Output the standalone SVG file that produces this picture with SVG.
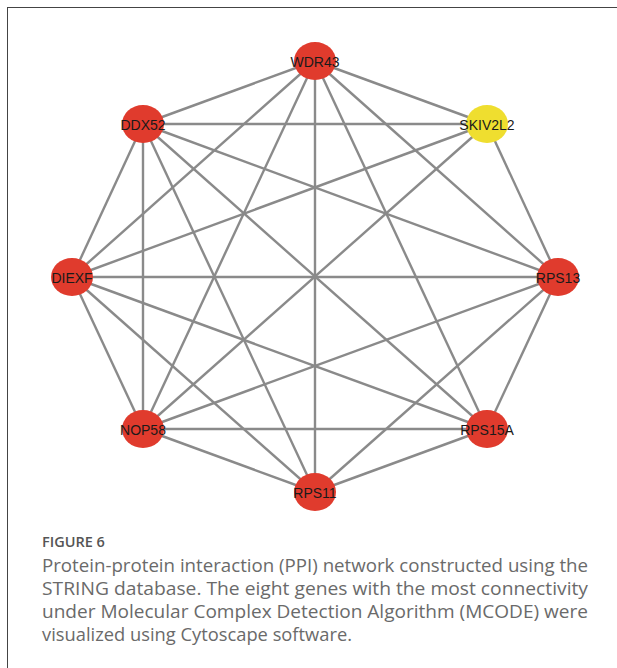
<svg xmlns="http://www.w3.org/2000/svg" width="617" height="668" viewBox="0 0 617 668">
<style>
.edge{stroke:#8a8a8a;stroke-width:2.4;fill:none}
.red{fill:#e03b2d}
.yel{fill:#efde2f}
.lbl{font-family:"Liberation Sans",Arial,sans-serif;font-size:14px;fill:#1a1a1a;text-anchor:middle}
.cap{font-family:"Open Sans",sans-serif;font-size:17.5px;fill:#6a6a6a}
.fig{font-family:"Open Sans",sans-serif;font-size:14.5px;font-weight:600;fill:#555}
</style>
<rect x="0" y="0" width="617" height="668" fill="#fff"/>
<rect x="7.5" y="7.5" width="630" height="680" fill="none" stroke="#444" stroke-width="1"/>
<g id="edges">
<line class="edge" x1="315" y1="61" x2="143" y2="124"/>
<line class="edge" x1="315" y1="61" x2="487" y2="124"/>
<line class="edge" x1="315" y1="61" x2="72" y2="277"/>
<line class="edge" x1="315" y1="61" x2="558" y2="277"/>
<line class="edge" x1="315" y1="61" x2="143" y2="429"/>
<line class="edge" x1="315" y1="61" x2="487" y2="429"/>
<line class="edge" x1="315" y1="61" x2="315" y2="492"/>
<line class="edge" x1="143" y1="124" x2="487" y2="124"/>
<line class="edge" x1="143" y1="124" x2="72" y2="277"/>
<line class="edge" x1="143" y1="124" x2="558" y2="277"/>
<line class="edge" x1="143" y1="124" x2="143" y2="429"/>
<line class="edge" x1="143" y1="124" x2="487" y2="429"/>
<line class="edge" x1="143" y1="124" x2="315" y2="492"/>
<line class="edge" x1="487" y1="124" x2="72" y2="277"/>
<line class="edge" x1="487" y1="124" x2="558" y2="277"/>
<line class="edge" x1="487" y1="124" x2="143" y2="429"/>
<line class="edge" x1="72" y1="277" x2="558" y2="277"/>
<line class="edge" x1="72" y1="277" x2="143" y2="429"/>
<line class="edge" x1="72" y1="277" x2="487" y2="429"/>
<line class="edge" x1="72" y1="277" x2="315" y2="492"/>
<line class="edge" x1="558" y1="277" x2="143" y2="429"/>
<line class="edge" x1="558" y1="277" x2="487" y2="429"/>
<line class="edge" x1="558" y1="277" x2="315" y2="492"/>
<line class="edge" x1="143" y1="429" x2="487" y2="429"/>
<line class="edge" x1="143" y1="429" x2="315" y2="492"/>
<line class="edge" x1="487" y1="429" x2="315" y2="492"/>
</g>
<g id="WDR43"><ellipse class="red" cx="315" cy="61" rx="21" ry="19"/><text class="lbl" x="315" y="66.5">WDR43</text></g>
<g id="DDX52"><ellipse class="red" cx="143" cy="124" rx="21" ry="19"/><text class="lbl" x="143" y="129.5">DDX52</text></g>
<g id="SKIV2L2"><ellipse class="yel" cx="487" cy="124" rx="21" ry="19"/><text class="lbl" x="487" y="129.5">SKIV2L2</text></g>
<g id="DIEXF"><ellipse class="red" cx="72" cy="277" rx="21" ry="19"/><text class="lbl" x="72" y="282.5">DIEXF</text></g>
<g id="RPS13"><ellipse class="red" cx="558" cy="277" rx="21" ry="19"/><text class="lbl" x="558" y="282.5">RPS13</text></g>
<g id="NOP58"><ellipse class="red" cx="143" cy="429" rx="21" ry="19"/><text class="lbl" x="143" y="434.5">NOP58</text></g>
<g id="RPS15A"><ellipse class="red" cx="487" cy="429" rx="21" ry="19"/><text class="lbl" x="487" y="434.5">RPS15A</text></g>
<g id="RPS11"><ellipse class="red" cx="315" cy="492" rx="21" ry="19"/><text class="lbl" x="315" y="497.5">RPS11</text></g>
<g id="caption">
<text class="fig" x="42" y="547">FIGURE 6</text>
<text class="cap" x="42" y="572" textLength="546" lengthAdjust="spacingAndGlyphs">Protein-protein interaction (PPI) network constructed using the</text>
<text class="cap" x="42" y="595" textLength="546" lengthAdjust="spacingAndGlyphs">STRING database. The eight genes with the most connectivity</text>
<text class="cap" x="42" y="618" textLength="546" lengthAdjust="spacingAndGlyphs">under Molecular Complex Detection Algorithm (MCODE) were</text>
<text class="cap" x="42" y="641" textLength="310" lengthAdjust="spacingAndGlyphs">visualized using Cytoscape software.</text>
</g>
</svg>
